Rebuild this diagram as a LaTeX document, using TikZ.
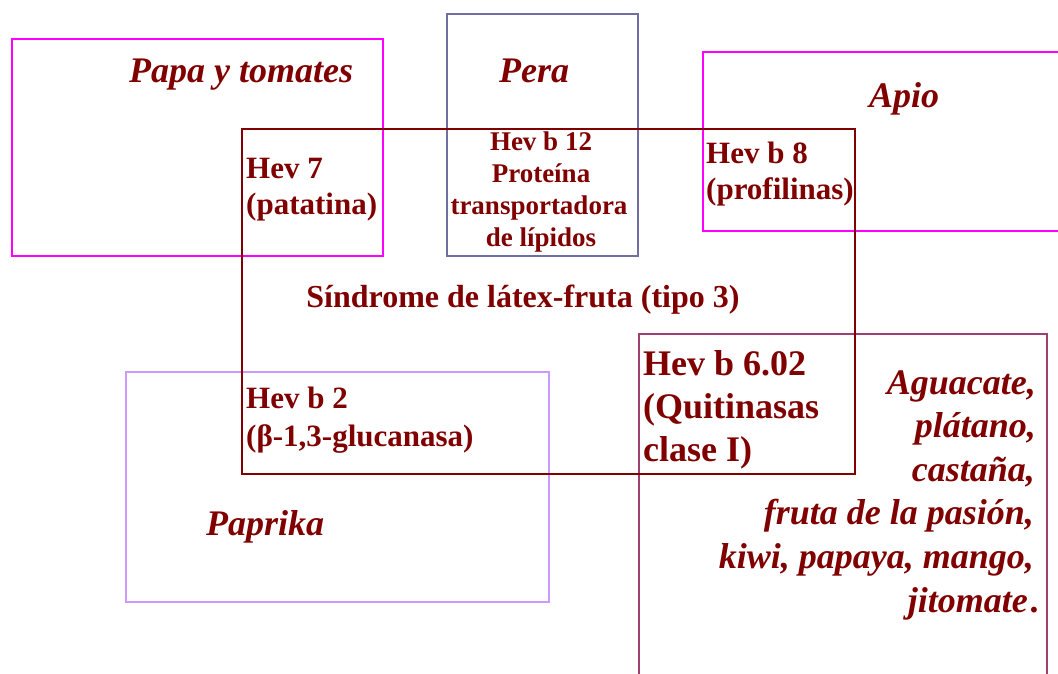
\documentclass[tikz,border=0pt]{standalone}
\usepackage{fontspec}
\setmainfont{Liberation Serif}
\definecolor{txtred}{RGB}{128,0,0}
\definecolor{mainred}{RGB}{128,0,0}
\definecolor{magbox}{RGB}{255,0,255}
\definecolor{perabox}{RGB}{112,112,160}
\definecolor{papbox}{RGB}{204,153,255}
\definecolor{frubox}{RGB}{160,64,112}
\begin{document}
\begin{tikzpicture}[x=1pt,y=-1pt,
  box/.style={draw, line width=1.8pt, inner sep=0pt, anchor=north west},
  ttl/.style={font=\fontsize{36}{43}\selectfont\bfseries\itshape, text=txtred, inner sep=0pt},
  lbl/.style={font=\fontsize{31}{37}\selectfont\bfseries, text=txtred, inner sep=0pt},
  sml/.style={font=\fontsize{27}{32}\selectfont\bfseries, text=txtred, inner sep=0pt},
  big/.style={font=\fontsize{36}{43}\selectfont\bfseries, text=txtred, inner sep=0pt}]
\clip (0,0) rectangle (1058,673);
\useasboundingbox (0,0) rectangle (1058,673);
% boxes
\node[box, draw=magbox, minimum width=371pt, minimum height=217pt] (papa) at (11,38) {};
\node[box, draw=perabox, minimum width=191pt, minimum height=242pt] (pera) at (446,13) {};
\node[box, draw=magbox, minimum width=420pt, minimum height=179pt] (apio) at (702,51) {};
\node[box, draw=papbox, minimum width=423pt, minimum height=230pt] (pap) at (125,371) {};
\node[box, draw=frubox, minimum width=408pt, minimum height=400pt] (fru) at (638,333) {};
\node[box, draw=mainred, minimum width=613pt, minimum height=345pt] (main) at (241,128) {};
% titles
\node[ttl, anchor=base west] (tpapa) at (129,82) {Papa y tomates};
\node[ttl, anchor=base west] (tpera) at (499,82) {Pera};
\node[ttl, anchor=base west] (tapio) at (869,107) {Apio};
\node[ttl, anchor=base west] (tpap) at (206,535) {Paprika};
% main label
\node[lbl, anchor=base] (sind) at (523,307) {\fontsize{32}{38}\selectfont Síndrome de látex-fruta (tipo 3)};
% Hev 7
\node[lbl, anchor=base west] (h7a) at (246,178) {Hev 7};
\node[lbl, anchor=base west] (h7b) at (246,214) {(patatina)};
% Hev b 12
\node[sml, anchor=base] (h12a) at (541,150) {Hev b 12};
\node[sml, anchor=base] (h12b) at (541,182) {Proteína};
\node[sml, anchor=base] (h12c) at (539,214) {transportadora};
\node[sml, anchor=base] (h12d) at (541,246) {de lípidos};
% Hev b 8
\node[lbl, anchor=base west] (h8a) at (706,163) {Hev b 8};
\node[lbl, anchor=base west] (h8b) at (706,199) {(profilinas)};
% Hev b 2
\node[lbl, anchor=base west] (h2a) at (246,408) {Hev b 2};
\node[lbl, anchor=base west] (h2b) at (246,446) {(β-1,3-glucanasa)};
% Hev b 6.02
\node[big, anchor=base west] (h6a) at (643,375) {Hev b 6.02};
\node[big, anchor=base west] (h6b) at (643,418) {(Quitinasas};
\node[big, anchor=base west] (h6c) at (643,461) {clase I)};
% fruits
\node[ttl, anchor=base east] (f1) at (1036,394) {Aguacate,};
\node[ttl, anchor=base east] (f2) at (1036,437) {plátano,\hspace{8pt}};
\node[ttl, anchor=base east] (f3) at (1035,481) {castaña,};
\node[ttl, anchor=base east] (f4) at (1034,524) {fruta de la pasión,};
\node[ttl, anchor=base east] (f5) at (1034,568) {kiwi, papaya, mango,};
\node[ttl, anchor=base east] (f6) at (1040,612) {jitomate\hspace{3pt}.};
\end{tikzpicture}
\end{document}
